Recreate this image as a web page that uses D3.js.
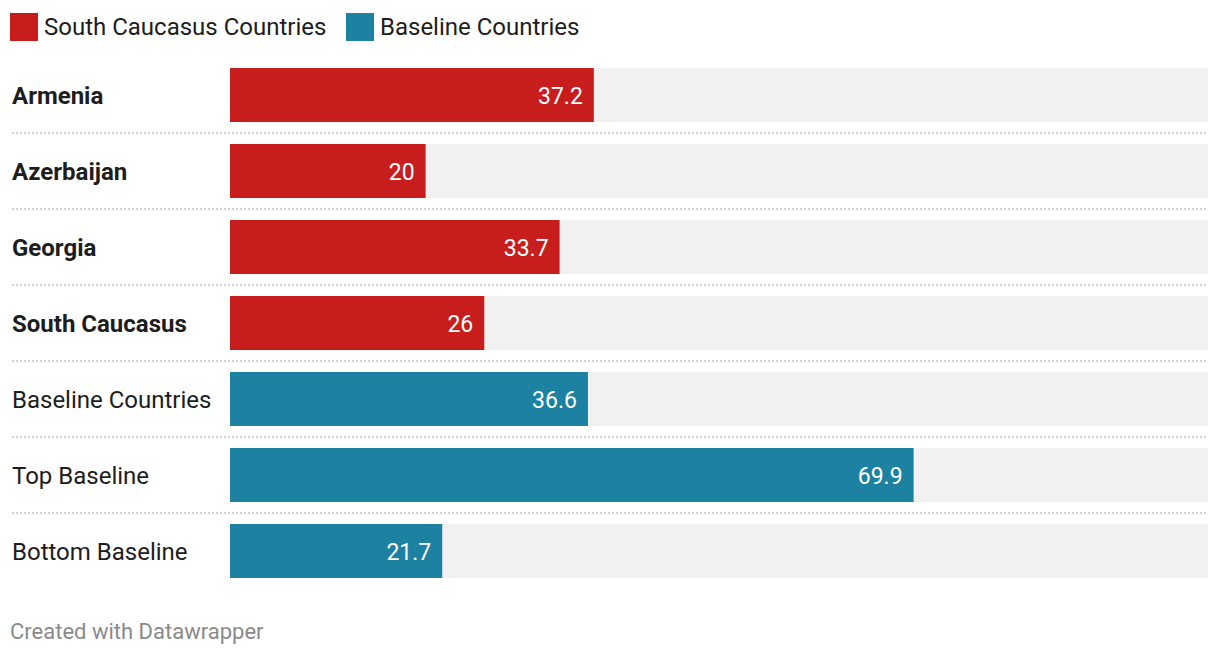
<!DOCTYPE html>
<html><head><meta charset="utf-8">
<script src="https://cdn.jsdelivr.net/npm/d3@7/dist/d3.min.js"></script>
<style>
body{margin:0;background:#fff;font-family:Roboto,"Noto Sans",sans-serif;}
</style></head>
<body><svg id="c" width="1220" height="656"></svg>
<script>
const categories = ["Armenia","Azerbaijan","Georgia","South Caucasus","Baseline Countries","Top Baseline","Bottom Baseline"];
const values = [37.2, 20, 33.7, 26, 36.6, 69.9, 21.7];
const groups = ["South Caucasus Countries","South Caucasus Countries","South Caucasus Countries","South Caucasus Countries","Baseline Countries","Baseline Countries","Baseline Countries"];
const boldLabels = [true,true,true,true,false,false,false];
const legendItems = ["South Caucasus Countries","Baseline Countries"];
const colors = ["#c71e1d","#1d81a2"];

const svg = d3.select("#c");
const color = d3.scaleOrdinal().domain(legendItems).range(colors);
const x = d3.scaleLinear().domain([0,100]).range([230,1208]);
const y = d3.scaleBand().domain(categories).range([57,589]).paddingInner(22/76).paddingOuter(11/76);

// legend
const legX = [10,346];
const lg = svg.append("g");
legendItems.forEach((d,i)=>{
  lg.append("rect").attr("x",legX[i]).attr("y",13).attr("width",28).attr("height",28).attr("fill",color(d));
  lg.append("text").attr("x",legX[i]+34).attr("y",35).attr("font-size",24).attr("fill","#1d1d1d").text(d);
});

// separators
categories.slice(0,-1).forEach((c,i)=>{
  const yy = y(c)+y.bandwidth()+11;
  svg.append("line").attr("x1",12).attr("x2",1208).attr("y1",yy).attr("y2",yy)
    .attr("stroke","#cfcfcf").attr("stroke-width",2).attr("stroke-dasharray","2,2");
});

const rows = svg.selectAll("g.row").data(categories).join("g").attr("class","row");
rows.append("rect").attr("x",x(0)).attr("y",d=>y(d)).attr("width",x(100)-x(0)).attr("height",y.bandwidth()).attr("fill","#f1f1f1");
rows.append("rect").attr("x",x(0)).attr("y",d=>y(d)).attr("width",(d,i)=>x(values[i])-x(0)).attr("height",y.bandwidth()).attr("fill",(d,i)=>color(groups[i]));
rows.append("text").attr("x",12).attr("y",d=>y(d)+y.bandwidth()/2+8.5).attr("font-size",24)
  .attr("font-weight",(d,i)=>boldLabels[i]?700:400).attr("fill","#1d1d1d").text(d=>d);
rows.append("text").attr("x",(d,i)=>x(values[i])-11).attr("y",d=>y(d)+y.bandwidth()/2+8.5).attr("text-anchor","end")
  .attr("font-size",23).attr("fill","#fff").text((d,i)=>values[i]);

svg.append("text").attr("x",10).attr("y",639).attr("font-size",22).attr("fill","#8a8a8a").text("Created with Datawrapper");
</script></body></html>
